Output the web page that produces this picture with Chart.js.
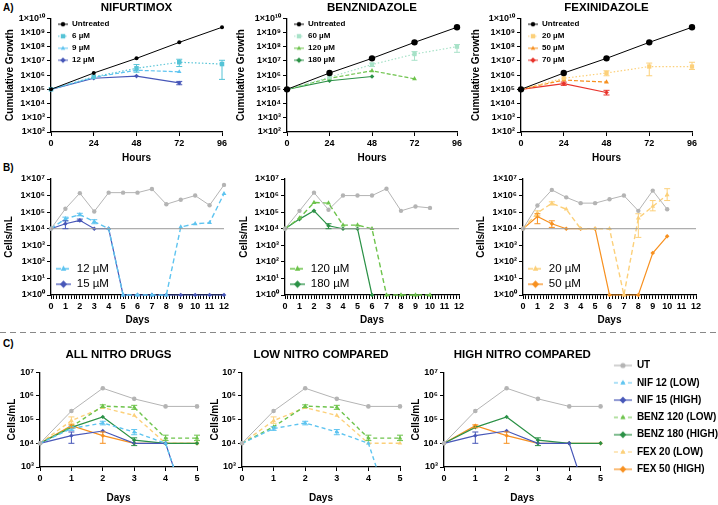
<!DOCTYPE html>
<html>
<head>
<meta charset="utf-8">
<title>Nitro drug growth curves</title>
<script src="https://cdn.jsdelivr.net/npm/chart.js@4.4.1/dist/chart.umd.min.js"></script>
<style>
  html, body { margin: 0; padding: 0; background: #fff; }
  body { width: 718px; height: 505px; overflow: hidden; position: relative; font-family: "Liberation Sans", Arial, sans-serif; }
  .tag { position: absolute; font-size: 10px; font-weight: bold; color: #000; }
  .sep { position: absolute; left: 0; top: 332px; width: 718px; height: 1px;
         background: repeating-linear-gradient(90deg, #888 0 6px, transparent 6px 10px); }
  .box { position: absolute; }
</style>
</head>
<body>
<div class="tag" style="left:3px;top:2px">A)</div>
<div class="tag" style="left:3px;top:162px">B)</div>
<div class="sep"></div>
<div class="tag" style="left:3px;top:338px">C)</div>
<script>
Chart.defaults.font.family = '"Liberation Sans", Arial, sans-serif'
Chart.defaults.color = '#000'

// ---------- data ----------
const HOURS = [0, 24, 48, 72, 96]
const DAYS_B = [0, 1, 2, 3, 4, 5, 6, 7, 8, 9, 10, 11, 12]
const DAYS_C = [0, 1, 2, 3, 4, 5]
const A_Y_TICKS = [1e2, 1e3, 1e4, 1e5, 1e6, 1e7, 1e8, 1e9, 1e10]
const B_Y_TICKS = [1e0, 1e1, 1e2, 1e3, 1e4, 1e5, 1e6, 1e7]
const C_Y_TICKS = [1e3, 1e4, 1e5, 1e6, 1e7]
const BASELINE = 1e4

// A) cumulative growth over 96 h
const untreatedA = [1e5, 1.4e6, 1.5e7, 2e8, 2.3e9]
const nif6 = [1e5, 7.5e5, 3e6, 8e6, 6e6]
const nif6Err = [null, null, [1.6e6, 5.5e6], [4e6, 1.3e7], [5e5, 1.1e7]]
const nif9 = [1e5, 7e5, 2.2e6, 1.7e6]
const nif12a = [1e5, 6e5, 8.5e5, 2.8e5]
const nif12aErr = [null, null, null, [2.1e5, 3.6e5]]
const benz60 = [1e5, 7e5, 5.5e6, 3e7, 1e8]
const benz60Err = [null, null, [4e6, 7e6], [1.1e7, 4.5e7], [4e7, 1.4e8]]
const benz120a = [1e5, 6e5, 2e6, 5.5e5]
const benz180a = [1e5, 4e5, 8e5]
const fex20a = [1e5, 6e5, 1.4e6, 4e6, 4e6]
const fex20aErr = [null, null, [9e5, 2e6], [9e5, 7e6], [2.5e6, 8e6]]
const fex50a = [1e5, 4.5e5, 3.2e5]
const fex70a = [1e5, 2.5e5, 6e4]
const fex70aErr = [null, [1.9e5, 3.2e5], [4e4, 8.5e4]]

// B) cells/mL over 12 days
const utNif = [1e4, 1.6e5, 1.4e6, 1.1e5, 1.5e6, 1.5e6, 1.5e6, 2.5e6, 3e5, 5.6e5, 1e6, 2.6e5, 4.4e6]
const nif12b = [1e4, 4e4, 7e4, 2.7e4, 1e4, 1, 1, 1, 1, 1.25e4, 2e4, 2.3e4, 1.3e6]
const nif12bErr = [null, [3e4, 5e4], [6e4, 8.5e4], [2e4, 3.5e4]]
const nif15b = [1e4, 2e4, 3.2e4, 1e4, 1e4, 1, 1, 1, 1, 1, 1, 1, 1]
const nif15bErr = [null, [1e4, 3e4], [2.8e4, 3.8e4]]
const utBenz = [1e4, 1.2e5, 1.5e6, 1.4e5, 1e6, 1e6, 1e6, 2.6e6, 1.2e5, 2.2e5, 1.8e5]
const benz120b = [1e4, 4.4e4, 3.8e5, 3.5e5, 1.65e4, 1.65e4, 1e4, 1, 1, 1, 1]
const benz180b = [1e4, 3.8e4, 1.2e5, 1.5e4, 1e4, 1e4, 1]
const benz180bErr = [null, null, null, [1e4, 2e4]]
const utFex = [1e4, 2.5e5, 2.2e6, 7.8e5, 3.5e5, 3.5e5, 6e5, 1e6, 1.2e5, 2e6, 1.5e5]
const fex20b = [1e4, 9e4, 3.4e5, 1.5e5, 1e4, 1e4, 1e4, 1, 4.4e4, 2.2e5, 1.1e6]
const fex20bErr = [null, [6e4, 1.2e5], [2.7e5, 4.2e5], null, null, null, null, null, [3e3, 8e4], [1.2e5, 5e5], [5e5, 2.6e6]]
const fex50b = [1e4, 5.5e4, 2e4, 1e4, 1e4, 1e4, 1, 1, 1, 340, 3.5e3]
const fex50bErr = [null, [2e4, 8e4], [1.2e4, 3e4]]

// C) first 5 days compared
const cUT = [1e4, 2.3e5, 2.1e6, 7.5e5, 3.6e5, 3.6e5]
const cNif12 = [1e4, 4.2e4, 7.2e4, 3e4, 1e4, 1]
const cNif12Err = [null, [3.5e4, 5e4], [6e4, 8.5e4], [2.3e4, 3.8e4]]
const cNif15 = [1e4, 2.1e4, 3.3e4, 1e4, 1e4, 1]
const cNif15Err = [null, [1e4, 3e4]]
const cBenz120 = [1e4, 5e4, 3.7e5, 3.3e5, 1.65e4, 1.65e4]
const cBenz120Err = [null, null, [3.2e5, 4.2e5], [2.7e5, 4e5], [1.3e4, 2.2e4], [1.3e4, 2.2e4]]
const cBenz180 = [1e4, 4.7e4, 1.3e5, 1.35e4, 1e4, 1e4]
const cBenz180Err = [null, null, null, [8e3, 1.7e4]]
const cFex20 = [1e4, 9e4, 3.2e5, 1.5e5, 1e4, 1e4]
const cFex20Err = [null, [7e4, 1.3e5]]
const cFex50 = [1e4, 5.5e4, 2.1e4, 1e4, 1e4, 1e4]
const cFex50Err = [null, [4.5e4, 6e4], [1e4, 3e4]]

// ---------- colours ----------
const GREY = '#b4b4b4'
const NIF6 = '#55c3d6', NIF_LO = '#5ec4f0', NIF_HI = '#4757b8'
const BZ60 = '#a8e2c8', BZ_LO = '#6dc34b', BZ_HI = '#2b9146'
const FX20 = '#fcd07a', FX50 = '#f7901f', FX70 = '#e8332b'

// ---------- helpers ----------
const SUP = '⁰¹²³⁴⁵⁶⁷⁸⁹'
const sup = n => String(n).split('').map(d => SUP[+d]).join('')
const sciLabel = v => '1×10' + sup(Math.round(Math.log10(v)))
const powLabel = v => '10' + sup(Math.round(Math.log10(v)))
const pts = (xs, ys) => ys.map((y, i) => ({ x: xs[i], y }))

const marker = (g, style, x, y, r) => {
    g.beginPath()
    if (style === 'rect') g.rect(x - r, y - r, 2 * r, 2 * r)
    else if (style === 'triangle') { g.moveTo(x, y - r * 1.15); g.lineTo(x + r, y + r * 0.7); g.lineTo(x - r, y + r * 0.7); g.closePath() }
    else if (style === 'rectRot') { g.moveTo(x, y - r * 1.3); g.lineTo(x + r * 1.3, y); g.lineTo(x, y + r * 1.3); g.lineTo(x - r * 1.3, y); g.closePath() }
    else g.arc(x, y, r, 0, Math.PI * 2)
    g.fill()
}

const swatch = (color, dash, style, sw) => {
    const c = document.createElement('canvas')
    c.width = sw.w
    c.height = sw.h
    const g = c.getContext('2d')
    g.strokeStyle = color
    g.fillStyle = color
    g.lineWidth = sw.lw
    g.setLineDash(dash)
    g.beginPath()
    g.moveTo(sw.lm, sw.h / 2)
    g.lineTo(sw.w, sw.h / 2)
    g.stroke()
    g.setLineDash([])
    marker(g, style, (sw.lm + sw.w) / 2, sw.h / 2, sw.r)
    return c
}

const line = (label, xs, ys, color, o = {}) => {
    const ds = {
        label,
        data: pts(xs, ys),
        borderColor: color,
        backgroundColor: color,
        borderWidth: o.lw || 1.2,
        borderDash: o.dash || [],
        pointStyle: o.ps || 'circle',
        pointRadius: o.r || 2.5,
        pointBorderWidth: 0,
        clip: o.clip === undefined ? false : o.clip,
        hidden: !!o.hidden,
        err: o.err || null
    }
    if (o.leg) ds.swatch = swatch(color, o.dash || [], ds.pointStyle, o.leg)
    return ds
}

const logAxis = (ticks, fmt, title, yw, tf, ttf) => ({
    type: 'logarithmic',
    min: ticks[0],
    max: ticks[ticks.length - 1],
    afterBuildTicks: s => { s.ticks = ticks.map(v => ({ value: v })) },
    afterFit: s => { s.width = yw },
    ticks: { callback: v => fmt(v), font: tf, padding: 2, autoSkip: false, color: '#000' },
    grid: { drawOnChartArea: false, tickLength: 4, color: '#000', lineWidth: 1 },
    border: { color: '#000', width: 1.3 },
    title: { display: true, text: title, font: ttf, padding: 0, color: '#000' }
})

const linAxis = (min, max, step, title, xh, tf, ttf) => ({
    type: 'linear',
    min,
    max,
    afterFit: s => { s.height = xh },
    ticks: {
        stepSize: step, maxTicksLimit: 100, autoSkip: false, maxRotation: 0, padding: 2, font: tf, color: '#000',
        callback: v => Math.abs(v - Math.round(v)) < 1e-6 ? String(Math.round(v)) : ''
    },
    grid: { drawOnChartArea: false, tickLength: 4, color: '#000', lineWidth: 1 },
    border: { color: '#000', width: 1.3 },
    title: { display: true, text: title, font: ttf, padding: 0, color: '#000' }
})

const legendCfg = (position, align, font, padding, sw, extra) => Object.assign({
    display: true,
    position,
    align,
    labels: {
        usePointStyle: true,
        pointStyleWidth: sw.w,
        padding,
        font,
        color: '#000',
        generateLabels: chart => Chart.defaults.plugins.legend.labels.generateLabels(chart)
            .filter(l => chart.data.datasets[l.datasetIndex].swatch)
            .map(l => Object.assign(l, { pointStyle: chart.data.datasets[l.datasetIndex].swatch, hidden: false }))
    }
}, extra || {})

const cfg = (datasets, x, y, title, legend, pad, dy) => ({
    type: 'line',
    data: { datasets },
    options: {
        responsive: true,
        maintainAspectRatio: false,
        animation: false,
        events: [],
        layout: { padding: pad },
        scales: { x, y },
        plugins: {
            title: title
                ? { display: true, text: title.text, fullSize: false, font: title.font, color: '#000', padding: { top: 0, bottom: title.pb } }
                : { display: false },
            legend: legend || { display: false },
            legendBox: { dy: dy || 0 },
            tooltip: { enabled: false }
        }
    }
})

// error bars drawn through the y scale of each chart
const errorBars = {
    id: 'errorBars',
    afterDatasetsDraw(chart) {
        const ctx = chart.ctx
        const ys = chart.scales.y
        chart.data.datasets.forEach((ds, i) => {
            if (!ds.err || !chart.isDatasetVisible(i)) return
            const meta = chart.getDatasetMeta(i)
            ctx.save()
            ctx.strokeStyle = ds.borderColor
            ctx.lineWidth = 1
            ds.err.forEach((e, j) => {
                if (!e || !meta.data[j]) return
                const x = meta.data[j].x
                const y1 = ys.getPixelForValue(e[0])
                const y2 = ys.getPixelForValue(e[1])
                ctx.beginPath()
                ctx.moveTo(x, y1); ctx.lineTo(x, y2)
                ctx.moveTo(x - 3, y1); ctx.lineTo(x + 3, y1)
                ctx.moveTo(x - 3, y2); ctx.lineTo(x + 3, y2)
                ctx.stroke()
            })
            ctx.restore()
        })
    }
}

// keep an in-plot legend inside the plot area after layout
const legendBox = {
    id: 'legendBox',
    afterLayout(chart, args, opts) {
        const lg = chart.legend
        if (!lg || !lg.options.display || lg.options.position !== 'chartArea') return
        const a = chart.chartArea
        const dy = (opts && opts.dy) || 0
        lg.left = a.left
        lg.right = a.right
        lg.top = a.top + dy
        lg.bottom = a.bottom + dy
    }
}
Chart.register(errorBars, legendBox)

// create a chart and move/resize its box until the plot area sits on rect
const place = (rect, config) => {
    const box = document.createElement('div')
    box.className = 'box'
    box.style.left = (rect.l - 50) + 'px'
    box.style.top = (rect.t - 25) + 'px'
    box.style.width = (rect.r - rect.l + 70) + 'px'
    box.style.height = (rect.b - rect.t + 60) + 'px'
    const cv = document.createElement('canvas')
    box.appendChild(cv)
    document.body.appendChild(box)
    const chart = new Chart(cv, config)
    for (let k = 0; k < 3; k++) {
        const a = chart.chartArea
        const W = parseFloat(box.style.width)
        const H = parseFloat(box.style.height)
        // whole pixels keep the text sharp
        box.style.left = Math.round(rect.l - a.left) + 'px'
        box.style.top = Math.round(rect.t - a.top) + 'px'
        box.style.width = Math.round(W + (rect.r - rect.l) - (a.right - a.left)) + 'px'
        box.style.height = Math.round(H + (rect.b - rect.t) - (a.bottom - a.top)) + 'px'
        chart.resize()
    }
    return chart
}

// ---------- fonts / legend swatches ----------
const TICK = { size: 9, weight: 'bold' }
const AXT = { size: 10, weight: 'bold' }
const HEAD = { size: 11.5, weight: 'bold' }
const LEG_A = { w: 13, h: 10, lm: 3, r: 2.2, lw: 1 }
const LEG_B = { w: 16, h: 12, lm: 1, r: 2.8, lw: 1.3 }
const LEG_C = { w: 24, h: 12, lm: 6, r: 2.6, lw: 1.2 }
const legA = () => legendCfg('chartArea', 'start', { size: 8, weight: 'bold' }, 4, LEG_A)
const legB = () => legendCfg('chartArea', 'end', { size: 11.5 }, 4, LEG_B)

const aX = () => linAxis(0, 96, 24, 'Hours', 32, TICK, AXT)
const aY = yw => logAxis(A_Y_TICKS, sciLabel, 'Cumulative Growth', yw, TICK, AXT)
const bX = () => linAxis(0, 12, 0.2, 'Days', 31, TICK, AXT)
const bY = yw => logAxis(B_Y_TICKS, sciLabel, 'Cells/mL', yw, TICK, AXT)
const cX = () => linAxis(0, 5, 1, 'Days', 37, TICK, AXT)
const cY = yw => logAxis(C_Y_TICKS, powLabel, 'Cells/mL', yw, TICK, AXT)
const padA = { top: 0, right: 10, left: 0, bottom: 0 }
const padB = { top: 10, right: 10, left: 0, bottom: 0 }

// ---------- row A ----------
place({ l: 51, t: 18, r: 222, b: 132 }, cfg([
    line('Untreated', HOURS, untreatedA, '#000', { r: 2, lw: 1, leg: LEG_A }),
    line('6 µM', HOURS, nif6, NIF6, { ps: 'rect', r: 3.2, dash: [1.5, 2], err: nif6Err, leg: LEG_A }),
    line('9 µM', HOURS, nif9, NIF_LO, { ps: 'triangle', r: 2.6, dash: [4, 2], leg: LEG_A }),
    line('12 µM', HOURS, nif12a, NIF_HI, { ps: 'rectRot', r: 2.3, err: nif12aErr, leg: LEG_A })
], aX(), aY(47), { text: 'NIFURTIMOX', font: HEAD, pb: 3.4 }, legA(), padA, -2))

place({ l: 287, t: 18, r: 457, b: 132 }, cfg([
    line('Untreated', HOURS, untreatedA, '#000', { r: 3.2, lw: 1, leg: LEG_A }),
    line('60 µM', HOURS, benz60, BZ60, { ps: 'rect', r: 3, dash: [1.5, 2], err: benz60Err, leg: LEG_A }),
    line('120 µM', HOURS, benz120a, BZ_LO, { ps: 'triangle', r: 2.8, dash: [4, 2], leg: LEG_A }),
    line('180 µM', HOURS, benz180a, BZ_HI, { ps: 'rectRot', r: 2.3, leg: LEG_A })
], aX(), aY(52), { text: 'BENZNIDAZOLE', font: HEAD, pb: 3.4 }, legA(), padA, -2))

place({ l: 521, t: 18, r: 692, b: 132 }, cfg([
    line('Untreated', HOURS, untreatedA, '#000', { r: 3.2, lw: 1, leg: LEG_A }),
    line('20 µM', HOURS, fex20a, FX20, { ps: 'rect', r: 3, dash: [1.5, 2], err: fex20aErr, leg: LEG_A }),
    line('50 µM', HOURS, fex50a, FX50, { ps: 'triangle', r: 2.8, dash: [4, 2], leg: LEG_A }),
    line('70 µM', HOURS, fex70a, FX70, { ps: 'rectRot', r: 2.3, err: fex70aErr, leg: LEG_A })
], aX(), aY(51), { text: 'FEXINIDAZOLE', font: HEAD, pb: 3.4 }, legA(), padA, -2))

// ---------- row B ----------
const base = () => ({
    label: 'baseline', data: [{ x: 0, y: BASELINE }, { x: 12, y: BASELINE }],
    borderColor: '#9a9a9a', borderWidth: 1, pointRadius: 0, clip: false
})

place({ l: 51, t: 179, r: 224, b: 295 }, cfg([
    base(),
    line('UT', DAYS_B, utNif, GREY, { r: 2.2, lw: 1 }),
    line('12 µM', DAYS_B, nif12b, NIF_LO, { ps: 'triangle', r: 2.8, dash: [5, 3], lw: 1.4, err: nif12bErr, leg: LEG_B }),
    line('15 µM', DAYS_B, nif15b, NIF_HI, { ps: 'rectRot', r: 2.3, err: nif15bErr, leg: LEG_B })
], bX(), bY(48), null, legB(), padB, -1))

place({ l: 285, t: 179, r: 459, b: 295 }, cfg([
    base(),
    line('UT', DAYS_B, utBenz, GREY, { r: 2.2, lw: 1 }),
    line('120 µM', DAYS_B, benz120b, BZ_LO, { ps: 'triangle', r: 2.8, dash: [5, 3], lw: 1.4, leg: LEG_B }),
    line('180 µM', DAYS_B, benz180b, BZ_HI, { ps: 'rectRot', r: 2.3, err: benz180bErr, leg: LEG_B })
], bX(), bY(47), null, legB(), padB, -1))

place({ l: 523, t: 179, r: 696, b: 295 }, cfg([
    base(),
    line('UT', DAYS_B, utFex, GREY, { r: 2.2, lw: 1 }),
    line('20 µM', DAYS_B, fex20b, FX20, { ps: 'triangle', r: 2.8, dash: [5, 3], lw: 1.4, err: fex20bErr, leg: LEG_B }),
    line('50 µM', DAYS_B, fex50b, FX50, { ps: 'rectRot', r: 2.3, err: fex50bErr, leg: LEG_B })
], bX(), bY(48), null, legB(), padB, -1))

// ---------- row C ----------
const CLIP = { left: 6, right: 6, top: 6, bottom: 0 }
const cSets = (show, leg) => [
    line('UT', DAYS_C, cUT, GREY, { r: 2.3, lw: 1, clip: CLIP, leg }),
    line('NIF 12 (LOW)', DAYS_C, cNif12, NIF_LO, { ps: 'triangle', r: 2.6, dash: [4, 3], lw: 1.4, clip: CLIP, err: cNif12Err, hidden: !show.low, leg }),
    line('NIF 15 (HIGH)', DAYS_C, cNif15, NIF_HI, { ps: 'rectRot', r: 2.2, clip: CLIP, err: cNif15Err, hidden: !show.high, leg }),
    line('BENZ 120 (LOW)', DAYS_C, cBenz120, BZ_LO, { ps: 'triangle', r: 2.6, dash: [4, 3], lw: 1.4, clip: CLIP, err: cBenz120Err, hidden: !show.low, leg }),
    line('BENZ 180 (HIGH)', DAYS_C, cBenz180, BZ_HI, { ps: 'rectRot', r: 2.2, clip: CLIP, err: cBenz180Err, hidden: !show.high, leg }),
    line('FEX 20 (LOW)', DAYS_C, cFex20, FX20, { ps: 'triangle', r: 2.6, dash: [4, 3], lw: 1.4, clip: CLIP, err: cFex20Err, hidden: !show.low, leg }),
    line('FEX 50 (HIGH)', DAYS_C, cFex50, FX50, { ps: 'rectRot', r: 2.2, clip: CLIP, err: cFex50Err, hidden: !show.high, leg })
]
const HEAD_C = { text: '', font: HEAD, pb: 10.4 }
const padC = { top: 0, right: 8, left: 0, bottom: 0 }

place({ l: 40, t: 372, r: 197, b: 467 }, cfg(cSets({ low: true, high: true }),
    cX(), cY(34), Object.assign({}, HEAD_C, { text: 'ALL NITRO DRUGS' }), null, padC))

place({ l: 242, t: 372, r: 400, b: 467 }, cfg(cSets({ low: true, high: false }),
    cX(), cY(33), Object.assign({}, HEAD_C, { text: 'LOW NITRO COMPARED' }), null, padC))

place({ l: 444, t: 372, r: 601, b: 467 }, cfg(cSets({ low: false, high: true }, LEG_C),
    cX(), cY(34), Object.assign({}, HEAD_C, { text: 'HIGH NITRO COMPARED' }),
    legendCfg('right', 'start', { size: 10, weight: 'bold' }, 7.3, LEG_C, {
        maxWidth: 160,
        title: { display: true, text: '', font: { size: 1 }, padding: { top: 4, bottom: 0 } }
    }),
    { top: 0, right: 0, left: 0, bottom: 0 }))
</script>
</body>
</html>
